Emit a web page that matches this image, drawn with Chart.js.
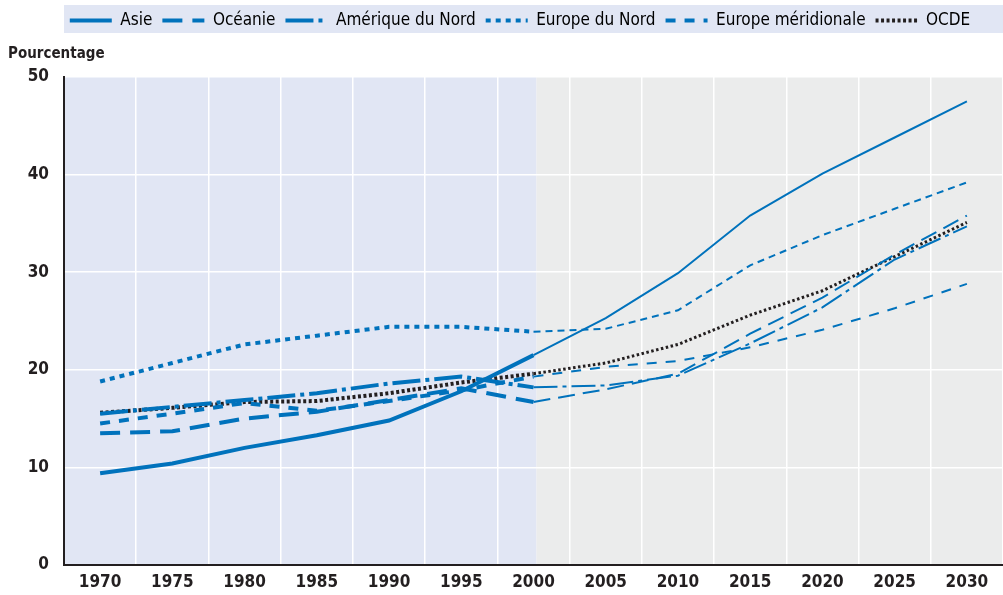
<!DOCTYPE html>
<html><head><meta charset="utf-8">
<script src="https://cdn.jsdelivr.net/npm/chart.js@4.4.1/dist/chart.umd.min.js"></script>
<style>html,body{margin:0;padding:0;background:#fff}#wrap{position:relative;width:1003px;height:595px}</style>
</head><body><div id="wrap"><canvas id="c"></canvas></div>
<script>
const years = ['1970','1975','1980','1985','1990','1995','2000','2005','2010','2015','2020','2025','2030'];
const asie         = [9.4, 10.4, 12.0, 13.3, 14.8, 17.8, 21.5, 25.3, 29.9, 35.8, 40.1, 43.8, 47.5];
const oceanie      = [13.5, 13.7, 15.0, 15.7, 16.9, 18.1, 16.7, 18.0, 19.6, 23.7, 27.4, 31.8, 35.8];
const ameriqueNord = [15.5, 16.2, 16.9, 17.6, 18.6, 19.3, 18.2, 18.4, 19.4, 22.7, 26.4, 31.3, 34.7];
const europeNord   = [18.8, 20.7, 22.6, 23.5, 24.4, 24.4, 23.9, 24.2, 26.1, 30.7, 33.8, 36.5, 39.2];
const europeMerid  = [14.5, 15.5, 16.6, 15.8, 16.8, 17.9, 19.3, 20.3, 20.9, 22.3, 24.1, 26.3, 28.8];
const ocde         = [15.6, 16.1, 16.7, 16.8, 17.6, 18.7, 19.6, 20.7, 22.6, 25.6, 28.1, 31.6, 35.1];
const seriesNames = ['Asie','Océanie','Amérique du Nord','Europe du Nord','Europe méridionale','OCDE'];
const yTicks = [0, 10, 20, 30, 40, 50];
const yTitle = 'Pourcentage';
const projectionStart = '2000';

const FONT = "'Liberation Sans Narrow','Arial Narrow','DejaVu Sans Condensed',sans-serif";
const BLUE = '#0072bc';
const DARK = '#231f20';
const PIDX = years.indexOf(projectionStart);

function ds(label, data, color, thick, thin) {
  return {
    label, data, borderColor: color, backgroundColor: color,
    borderWidth: thick.w, borderDash: thick.d, borderCapStyle: 'butt',
    pointRadius: 0, pointHoverRadius: 0, tension: 0, fill: false,
    segment: {
      borderWidth: c => c.p0DataIndex >= PIDX ? thin.w : thick.w,
      borderDash: c => c.p0DataIndex >= PIDX ? thin.d : thick.d
    }
  };
}

const datasets = [
  ds(seriesNames[0], asie, BLUE, {w:4, d:[]}, {w:2, d:[]}),
  ds(seriesNames[1], oceanie, BLUE, {w:4, d:[20,10]}, {w:2, d:[17,8]}),
  ds(seriesNames[2], ameriqueNord, BLUE, {w:4, d:[28,5,4,5]}, {w:2, d:[24,5,4,5]}),
  ds(seriesNames[3], europeNord, BLUE, {w:4, d:[5,5]}, {w:2, d:[7,5]}),
  ds(seriesNames[4], europeMerid, BLUE, {w:4, d:[10,9]}, {w:2, d:[10,9]}),
  ds(seriesNames[5], ocde, DARK, {w:4, d:[3,2.5]}, {w:3, d:[2.5,2.5]})
];

const LEGEND_CENTER = 525;

const bgPlugin = {
  id: 'bg',
  afterLayout(chart) {
    const lg = chart.legend;
    if (lg && lg.lineWidths) {
      const pad = lg.options.labels.padding;
      const cur = ((lg.left + pad) + (lg.right - lg.lineWidths[0])) / 2 + lg.lineWidths[0] / 2;
      const shift = LEGEND_CENTER - cur;
      lg.left += shift; lg.right += shift;
      lg.top += 2; lg.bottom += 2;
    }
  },
  beforeDraw(chart) {
    const {ctx, chartArea: a, scales: {x}} = chart;
    const split = x.getPixelForValue(PIDX) + 3;
    ctx.save();
    ctx.fillStyle = '#e1e6f4';
    ctx.fillRect(a.left, a.top, split - a.left, a.bottom - a.top);
    ctx.fillStyle = '#ebecec';
    ctx.fillRect(split, a.top, a.right - split, a.bottom - a.top);
    ctx.fillStyle = '#e1e6f4';
    ctx.fillRect(a.left, 5, a.right - a.left, 28);
    ctx.restore();
  }
};

new Chart(document.getElementById('c'), {
  type: 'line',
  data: { labels: years, datasets },
  plugins: [bgPlugin],
  options: {
    responsive: true, maintainAspectRatio: false, animation: false,
    layout: { padding: { top: 0, left: 8, right: 0, bottom: 0 } },
    plugins: {
      tooltip: { enabled: false },
      title: {
        display: true, text: yTitle, align: 'start', position: 'top', weight: 500,
        color: DARK, font: { family: FONT, size: 15, weight: 'bold', lineHeight: 1.2 },
        padding: { top: 8, bottom: 14 }
      },
      legend: {
        position: 'top', align: 'center', weight: 1000,
        labels: {
          usePointStyle: true, pointStyle: 'line', pointStyleWidth: 42,
          boxHeight: 17, padding: 10, color: DARK,
          font: { family: FONT, size: 17 },
          generateLabels(chart) {
            return chart.data.datasets.map((d, i) => ({
              text: d.label, fillStyle: d.borderColor, strokeStyle: d.borderColor,
              lineWidth: 4, lineDash: d.borderDash, pointStyle: 'line', datasetIndex: i, hidden: false
            }));
          }
        }
      }
    },
    scales: {
      x: {
        type: 'category', offset: true,
        grid: { color: '#ffffff', lineWidth: 1.5, offset: true, drawTicks: false },
        border: { color: DARK, width: 2 },
        ticks: { color: DARK, font: { family: FONT, size: 17, weight: 'bold' }, padding: 7, maxRotation: 0, autoSkip: false },
        afterFit(s) { s.height = 30; }
      },
      y: {
        min: 0, max: 50,
        afterBuildTicks(s) { s.ticks = yTicks.map(v => ({ value: v })); },
        grid: { color: '#ffffff', lineWidth: 1.5, drawTicks: false },
        border: { color: DARK, width: 2 },
        ticks: { color: DARK, font: { family: FONT, size: 17, weight: 'bold' }, padding: 15 },
        afterFit(s) { s.width = 56; }
      }
    }
  }
});
</script></body></html>
